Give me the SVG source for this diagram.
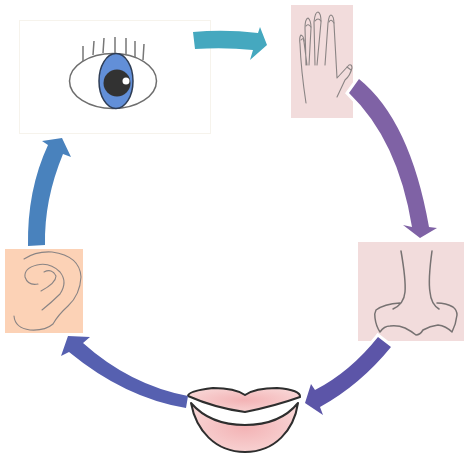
<svg xmlns="http://www.w3.org/2000/svg" width="464" height="455" viewBox="0 0 464 455">
<style>
.ln{fill:none;stroke:#8a8484;stroke-width:1.100;stroke-linecap:round;stroke-linejoin:round}
.ink{fill:none;stroke:#777272;stroke-width:1.500;stroke-linecap:round;stroke-linejoin:round}
.lip{fill:url(#lip);stroke:#2d2d2d;stroke-width:2;stroke-linejoin:round}
.halo{stroke:#fff;stroke-width:6;paint-order:stroke}
</style>
<defs>
<radialGradient id="lip" cx="50%" cy="50%" r="55%"><stop offset="0" stop-color="#f3b3b5"/><stop offset="1" stop-color="#f8d4d4"/></radialGradient>
<filter id="soft" x="-5%" y="-5%" width="110%" height="110%"><feGaussianBlur stdDeviation="0.5"/></filter>
</defs>
<rect width="464" height="455" fill="#fff"/>
<g filter="url(#soft)">
<g id="eye">
<rect x="19.500" y="20.500" width="191" height="113" fill="#fff" stroke="#f6f3ec"/>
<ellipse cx="113" cy="81" rx="43.500" ry="27.500" fill="#fff" stroke="#6e6e6e" stroke-width="1.500"/>
<ellipse cx="116" cy="81" rx="17" ry="27.500" fill="#628fd8" stroke="#2f3d55" stroke-width="1.500"/>
<circle cx="117" cy="83" r="13.500" fill="#333"/>
<circle cx="126" cy="81" r="3.500" fill="#fff"/>
<path d="M83 61V46M93 55L94 41M103 53L104 38M115 53V37M126 54V38M135 57V41M143 60L144 44" fill="none" stroke="#777" stroke-width="1.500"/>
</g>
<g id="hand">
<rect x="291" y="5" width="62" height="113" fill="#f2dcdc"/>
<path class="ln" d="M306 103Q301 70 300 44Q299 37 301 35Q304 36 304 42L307 65M306 65L305 28Q305 19 308 18Q311 20 311 28L309 65M315 65L314 22Q315 12 318 12Q321 13 321 22L317 65M325 65L328 23Q329 15 331 15Q334 16 334 24L337 78L349 65Q352 64 352 68Q350 76 345 80L337 97"/>
<path class="ln" d="M301 40Q303 37 304 41M306 26Q308 23 311 27M315 21Q318 17 321 21M329 22Q331 18 334 23M347 67L351 70"/>
</g>
<g id="nose">
<rect x="358" y="242" width="106" height="99" fill="#f2dcdc"/>
<path class="ink" d="M401 251Q406 280 405 292Q404 304 393 309M400 303Q384 304 376 310Q374 314 375 318Q376 326 380 332Q384 326 390 326Q398 325 405 328Q411 331 416 335Q420 335 423 330Q430 326 438 325Q446 326 452 332Q456 324 457 315Q457 310 453 307Q446 303 437 303M432 251Q428 280 430 292Q431 304 439 309"/>
</g>
<g id="mouth">
<path class="lip" d="M191 403C196 430 215 452 245 452C275 452 294 430 298 403Q280 425 245 425Q210 425 191 403Z"/>
<path class="lip" d="M188 396Q188 391 213 388Q235 388 245 395Q255 388 277 388Q301 390 300 397Q275 406 245 412Q215 408 188 396Z"/>
</g>
<g id="ear">
<rect x="5" y="249" width="78" height="84" fill="#fcd2b6"/>
<path class="ln" d="M24 259Q36 251 52 252Q80 256 81 277Q80 295 68 306Q58 315 53 324Q45 331 30 330Q15 328 14 316M42 310Q52 302 60 294Q68 282 60 272Q50 262 37 265Q24 268 25 277Q28 286 38 284M41 291Q56 283 56 276Q52 268 44 272"/>
</g>
<g id="connectors">
<path fill="#44a8bf" d="M193 32Q225 29 258 33L260 27L267 45L250 60L253 50Q225 47 195 49Z"/>
<path class="halo" fill="#7f62a5" d="M359 79Q410 120 429 227L437 228L420 238L403 225L412 227Q398 140 349 93Z"/>
<path class="halo" fill="#5b55a8" d="M378 337L391 347Q360 385 320 407L323 415L305 403L311 384L315 390Q350 372 378 337Z"/>
<path fill="#5660b0" d="M188 396L186 408Q125 398 69 352L61 356L68 336L90 337L83 343Q130 385 188 396Z"/>
<path fill="#4a82bd" d="M28 246Q27 190 48 145L42 141L62 138L71 157L63 154Q44 200 45 245Z"/>
</g>
</g>
</svg>
